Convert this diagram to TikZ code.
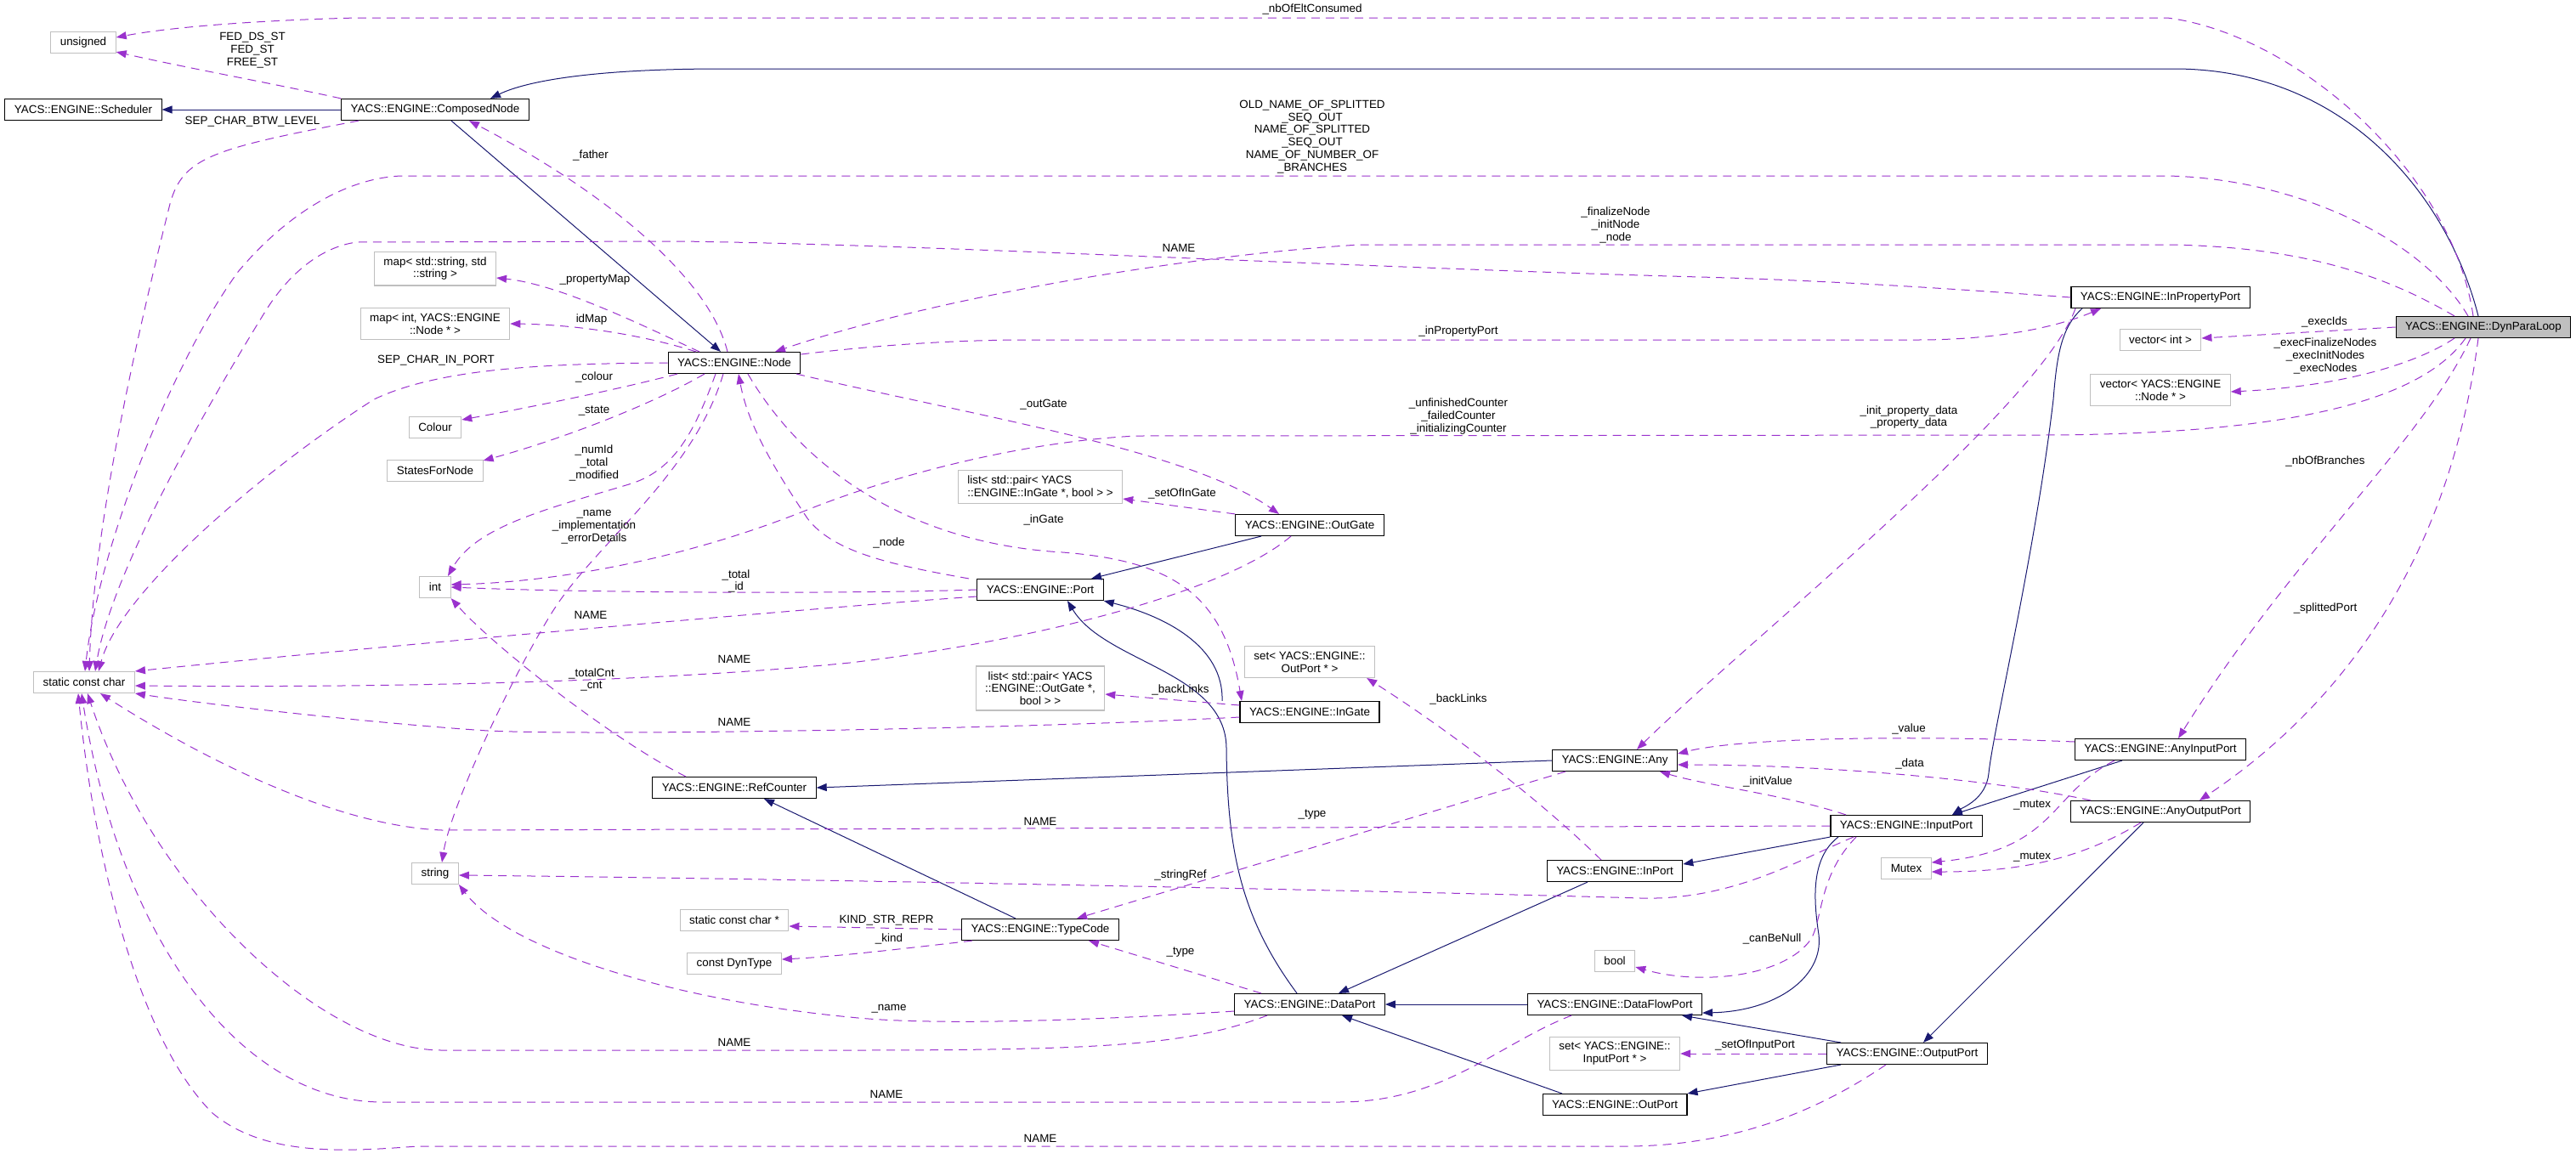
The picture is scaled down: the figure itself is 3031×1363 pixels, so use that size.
\documentclass[tikz,border=0pt]{standalone}
\usepackage{fontspec}
\setmainfont{Liberation Sans}
\usepackage{xcolor}
\usepackage{tikz}
\usetikzlibrary{arrows.meta}
\definecolor{inhcol}{HTML}{191970}
\definecolor{depcol}{HTML}{9A32CD}
\definecolor{extcol}{HTML}{BFBFBF}

\begin{document}
\begin{tikzpicture}[x=1pt,y=-1pt,
  every node/.style={font=\fontsize{13.4}{14.8}\selectfont},
  cls/.style={draw=black,line width=1.1pt,inner xsep=11pt,inner ysep=6.3pt,minimum height=25pt,align=center,fill=white},
  ext/.style={cls,draw=extcol},
  cur/.style={cls,fill=extcol},
  lbl/.style={inner sep=0pt,align=center},
  inh/.style={draw=inhcol,line width=1pt,-{Triangle[length=12pt,width=9pt]}},
  dep/.style={draw=depcol,line width=1pt,dash pattern=on 10pt off 7pt,-{Triangle[length=12pt,width=9pt]}}]
\useasboundingbox (0,0) rectangle (3031,1363);

%% classes (x , y) as in the graph %%%%%%%%%%%%%%%%%%%%
\node[cur] (dpl) at (2922,385) {YACS::ENGINE::DynParaLoop};
\node[ext] (unsgn) at (98,50) {unsigned};
\node[cls] (sched) at (98,129) {YACS::ENGINE::Scheduler};
\node[cls] (compnode) at (512,129) {YACS::ENGINE::ComposedNode};
\node[ext] (mapstr) at (512,316) {map< std::string, std\\::string >};
\node[ext] (mapint) at (512,381) {map< int, YACS::ENGINE\\::Node * >};
\node[cls] (ynode) at (864,427) {YACS::ENGINE::Node};
\node[ext] (colour) at (512,503) {Colour};
\node[ext] (states) at (512,554) {StatesForNode};
\node[ext] (tint) at (512,691) {int};
\node[ext] (scc) at (99,803) {static const char};
\node[ext] (tstring) at (512,1028) {string};
\node[cls] (refcnt) at (864,927) {YACS::ENGINE::RefCounter};
\node[ext] (sccp) at (864,1083) {static const char *};
\node[ext] (dyntype) at (864,1134) {const DynType};
\node[ext,align=left] (listin) at (1224,573) {list< std::pair< YACS\\::ENGINE::InGate *, bool > >};
\node[cls] (outgate) at (1541,618) {YACS::ENGINE::OutGate};
\node[cls] (port) at (1224,694) {YACS::ENGINE::Port};
\node[ext] (setoutp) at (1541,779) {set< YACS::ENGINE::\\OutPort * >};
\node[ext] (listout) at (1224,810) {list< std::pair< YACS\\::ENGINE::OutGate *,\\bool > >};
\node[cls] (ingate) at (1541,838) {YACS::ENGINE::InGate};
\node[cls] (any) at (1900,895) {YACS::ENGINE::Any};
\node[cls] (inport) at (1900,1025) {YACS::ENGINE::InPort};
\node[cls] (typecode) at (1224,1094) {YACS::ENGINE::TypeCode};
\node[ext] (tbool) at (1900,1131) {bool};
\node[cls] (dataport) at (1541,1182) {YACS::ENGINE::DataPort};
\node[cls] (dataflow) at (1900,1182) {YACS::ENGINE::DataFlowPort};
\node[ext] (setinp) at (1900,1240) {set< YACS::ENGINE::\\InputPort * >};
\node[cls] (outport) at (1900,1300) {YACS::ENGINE::OutPort};
\node[cls] (inprop) at (2542,350) {YACS::ENGINE::InPropertyPort};
\node[ext] (vecint) at (2542,400) {vector< int >};
\node[ext] (vecnode) at (2542,459) {vector< YACS::ENGINE\\::Node * >};
\node[cls] (anyin) at (2542,882) {YACS::ENGINE::AnyInputPort};
\node[cls] (anyout) at (2542,955) {YACS::ENGINE::AnyOutputPort};
\node[cls] (inputport) at (2243,972) {YACS::ENGINE::InputPort};
\node[ext] (mutex) at (2243,1022) {Mutex};
\node[cls] (outputport) at (2244,1240) {YACS::ENGINE::OutputPort};

%% inheritance %%%%%%%%%%%%%%%%%%%%%%%%%%%%%%%%%%%%%%%%
\draw[inh] (compnode.west) -- (sched.east);
\draw[inh] ([xshift=19pt]compnode.south) -- ([xshift=-16pt]ynode.north);
\draw[inh] ([xshift=-6pt]dpl.north) .. controls (2880,230) and (2760,82) .. (2560,81) -- (850,81) .. controls (700,81) and (620,95) .. ([xshift=65pt]compnode.north);
\draw[inh] ([xshift=-57pt]outgate.south) -- ([xshift=60pt]port.north);
\draw[inh] ([xshift=-103pt]ingate.north) .. controls (1440,760) and (1370,725) .. (port.south east);
\draw[inh] ([xshift=-15pt]dataport.north) .. controls (1460,1080) and (1444,1000) .. (1443,880) .. controls (1442,790) and (1300,780) .. ([xshift=32pt]port.south);
\draw[inh] (any.west) -- (refcnt.east);
\draw[inh] ([xshift=-29pt]typecode.north) -- ([xshift=35pt]refcnt.south);
\draw[inh] ([xshift=-32pt]inport.south) -- ([xshift=34pt]dataport.north);
\draw[inh] (dataflow.west) -- (dataport.east);
\draw[inh] ([xshift=-62pt]outport.north) -- ([xshift=38pt]dataport.south);
\draw[inh] (inputport.south west) -- ([yshift=8pt]inport.east);
\draw[inh] ([xshift=-80pt]inputport.south) .. controls (2130,1010) and (2134,1060) .. (2140,1100) .. controls (2146,1150) and (2090,1190) .. ([yshift=3pt]dataflow.south east);
\draw[inh] ([xshift=-78pt]outputport.north) -- ([xshift=-24pt]dataflow.south east);
\draw[inh] ([xshift=-78pt]outputport.south) -- (outport.north east);
\draw[inh] ([xshift=-92pt]inprop.south) .. controls (2425,385) and (2420,420) .. (2416,470) .. controls (2395,650) and (2345,860) .. (2340,910) .. controls (2337,940) and (2310,950) .. ([xshift=54pt]inputport.north);
\draw[inh] ([xshift=-45pt]anyin.south) -- ([xshift=54pt]inputport.north);
\draw[inh] ([xshift=-20pt]anyout.south) -- ([xshift=19pt]outputport.north);

%% members, DynParaLoop %%%%%%%%%%%%%%%%%%%%%%%%%%%%%%%
\draw[dep] ([xshift=-12pt]dpl.north) .. controls (2885,200) and (2700,40) .. (2550,21) -- (420,21) .. controls (300,24) and (200,32) .. ([yshift=6pt]unsgn.east);
\node[lbl] (Lnbelt) at (1544,11) {\_nbOfEltConsumed};
\draw[dep] ([xshift=-18pt]dpl.north) .. controls (2850,280) and (2700,210) .. (2550,207) -- (472,207) .. controls (400,210) and (330,260) .. (280,320) .. controls (200,430) and (115,650) .. ([xshift=1pt]scc.north);
\node[lbl] (Loldname) at (1544,161) {OLD\_NAME\_OF\_SPLITTED\\\_SEQ\_OUT\\NAME\_OF\_SPLITTED\\\_SEQ\_OUT\\NAME\_OF\_NUMBER\_OF\\\_BRANCHES};
\draw[dep] ([xshift=-34pt]dpl.north) .. controls (2800,320) and (2700,290) .. (2550,288) -- (1600,288) .. controls (1400,300) and (1100,350) .. ([xshift=48pt]ynode.north);
\node[lbl] (Lfinal) at (1901,265) {\_finalizeNode\\\_initNode\\\_node};
\draw[dep] (dpl.west) -- ([yshift=2pt]vecint.east);
\node[lbl] (Lexecids) at (2735,379) {\_execIds};
\draw[dep] ([xshift=-34pt]dpl.south) .. controls (2840,430) and (2750,455) .. ([yshift=-2pt]vecnode.east);
\node[lbl] (Lexecnodes) at (2736,419) {\_execFinalizeNodes\\\_execInitNodes\\\_execNodes};
\draw[dep] ([xshift=-21pt]dpl.south) .. controls (2850,470) and (2700,512) .. (2394,512) -- (1337,513) .. controls (1200,520) and (1050,560) .. (950,600) .. controls (800,660) and (650,685) .. ([yshift=3pt]tint.east);
\node[lbl] (Lcounters) at (1716,490) {\_unfinishedCounter\\\_failedCounter\\\_initializingCounter};
\draw[dep] ([xshift=-15pt]dpl.south) .. controls (2850,520) and (2700,650) .. ([xshift=21pt]anyin.north);
\node[lbl] (Lnbbranch) at (2736,543) {\_nbOfBranches};
\draw[dep] ([xshift=-6pt]dpl.south) .. controls (2890,600) and (2800,800) .. ([xshift=46pt]anyout.north);
\node[lbl] (Lsplit) at (2736,716) {\_splittedPort};

%% members, ComposedNode and Node %%%%%%%%%%%%%%%%%%%%%
\draw[dep] (compnode.north west) .. controls (330,100) and (220,80) .. ([yshift=2pt]unsgn.south east);
\node[lbl] (Lfed) at (297,59) {FED\_DS\_ST\\FED\_ST\\FREE\_ST};
\draw[dep] ([xshift=-90pt]compnode.south) .. controls (250,175) and (215,185) .. (200,240) .. controls (160,400) and (110,620) .. ([xshift=6pt]scc.north);
\node[lbl] (Lsepbtw) at (297,143) {SEP\_CHAR\_BTW\_LEVEL};
\draw[dep] ([xshift=-41pt]ynode.north) .. controls (760,385) and (660,335) .. ([yshift=-11pt]mapstr.east);
\node[lbl] (Lpropmap) at (700,329) {\_propertyMap};
\draw[dep] ([xshift=-45pt]ynode.north) .. controls (760,395) and (680,382) .. (mapint.east);
\node[lbl] (Lidmap) at (696,376) {idMap};
\draw[dep] ([xshift=-8pt]ynode.north) .. controls (835,330) and (720,230) .. ([xshift=40pt]compnode.south);
\node[lbl] (Lfather) at (695,183) {\_father};
\draw[dep] (ynode.west) .. controls (650,428) and (520,432) .. (440,470) .. controls (300,560) and (140,700) .. ([xshift=17pt]scc.north);
\node[lbl] (Lsepin) at (513,424) {SEP\_CHAR\_IN\_PORT};
\draw[dep] ([xshift=-67pt]ynode.south) .. controls (720,460) and (620,480) .. ([yshift=9pt]colour.east);
\node[lbl] (Lcolour) at (699,444) {\_colour};
\draw[dep] ([xshift=-35pt]ynode.south) .. controls (760,480) and (650,520) .. ([yshift=12pt]states.east);
\node[lbl] (Lstate) at (699,483) {\_state};
\draw[dep] ([xshift=-22pt]ynode.south) .. controls (815,515) and (790,555) .. (740,570) .. controls (640,600) and (560,620) .. ([xshift=15pt]tint.north);
\node[lbl] (Lnumid) at (699,545) {\_numId\\\_total\\\_modified};
\draw[dep] ([xshift=-13pt]ynode.south) .. controls (815,560) and (700,640) .. (650,720) .. controls (600,800) and (530,950) .. ([xshift=8pt]tstring.north);
\node[lbl] (Lname2) at (699,620) {\_name\\\_implementation\\\_errorDetails};
\draw[dep] ([xshift=73pt]ynode.south) .. controls (1150,490) and (1400,530) .. ([xshift=-36pt]outgate.north);
\node[lbl] (Loutgate) at (1228,476) {\_outGate};
\draw[dep] ([xshift=16pt]ynode.south) .. controls (950,560) and (1080,640) .. (1250,650) .. controls (1380,660) and (1440,700) .. ([xshift=-80pt]ingate.north);
\node[lbl] (Lingate) at (1228,612) {\_inGate};
\draw[dep] ([yshift=10pt]ynode.east) .. controls (1000,410) and (1100,400) .. (1210,400) -- (2256,400) .. controls (2350,400) and (2420,385) .. ([xshift=-70pt]inprop.south);
\node[lbl] (Linprop) at (1716,390) {\_inPropertyPort};
\draw[dep] (inprop.west) .. controls (2300,340) and (2150,330) .. (2000,326) .. controls (1600,315) and (1100,288) .. (800,284) -- (420,285) .. controls (380,290) and (340,320) .. (310,370) .. controls (230,500) and (130,680) .. ([xshift=13pt]scc.north);
\node[lbl] (Lname1) at (1387,292) {NAME};
\draw[dep] ([xshift=-100pt]inprop.south) .. controls (2400,480) and (2050,760) .. ([xshift=26pt]any.north);
\node[lbl] (Lpropdata) at (2246,491) {\_init\_property\_data\\\_property\_data};

%% members, ports and gates %%%%%%%%%%%%%%%%%%%%%%%%%%%
\draw[dep] ([xshift=-84pt]port.north) .. controls (1050,665) and (980,650) .. (950,610) .. controls (910,550) and (880,500) .. ([xshift=5pt]ynode.south);
\node[lbl] (Lnode) at (1046,639) {\_node};
\draw[dep] (outgate.north west) -- ([yshift=-14pt]listin.east);
\node[lbl] (Lsetin) at (1391,581) {\_setOfInGate};
\draw[dep] ([yshift=8pt]ingate.west) -- ([yshift=-7pt]listout.east);
\node[lbl] (Lbacklinks1) at (1389,812) {\_backLinks};
\draw[dep] (port.west) .. controls (1000,699) and (700,698) .. (tint.east);
\node[lbl] (Ltotal) at (866,684) {\_total\\\_id};
\draw[dep] ([yshift=-8pt]port.west) .. controls (1000,712) and (450,760) .. (scc.north east);
\node[lbl] (Lname3) at (695,724) {NAME};
\draw[dep] ([xshift=-22pt]outgate.south) .. controls (1450,690) and (1250,750) .. (1000,780) .. controls (800,800) and (500,810) .. ([yshift=-4pt]scc.east);
\node[lbl] (Lname4) at (864,776) {NAME};
\draw[dep] ([xshift=-57pt]refcnt.north) .. controls (720,870) and (580,760) .. (tint.south east);
\node[lbl] (Ltotalcnt) at (696,800) {\_totalCnt\\\_cnt};
\draw[dep] ([yshift=-6pt]ingate.west) .. controls (1200,858) and (700,866) .. (574,860) .. controls (450,852) and (250,830) .. (scc.south east);
\node[lbl] (Lname5) at (864,850) {NAME};
\draw[dep] (inputport.west) -- (520,977) .. controls (400,972) and (250,900) .. ([xshift=19pt]scc.south);
\node[lbl] (Lname6) at (1224,967) {NAME};
\draw[dep] ([xshift=-62pt]inputport.south) .. controls (2120,1010) and (2040,1060) .. (1930,1057) .. controls (1700,1050) and (1000,1035) .. ([yshift=-2pt]tstring.east);
\node[lbl] (Lstringref) at (1389,1030) {\_stringRef};
\draw[dep] ([xshift=-58pt]any.south) -- ([xshift=43pt]typecode.north);
\node[lbl] (Ltype1) at (1544,959) {\_type};
\draw[dep] ([xshift=-57pt]dataport.north) -- ([xshift=57pt]typecode.south);
\node[lbl] (Ltype2) at (1389,1121) {\_type};
\draw[dep] (typecode.west) -- ([yshift=-7pt]sccp.east);
\node[lbl] (Lkind1) at (1043,1083) {KIND\_STR\_REPR};
\draw[dep] ([xshift=-80pt]typecode.south) .. controls (1050,1118) and (980,1126) .. ([yshift=5pt]dyntype.east);
\node[lbl] (Lkind2) at (1046,1105) {\_kind};
\draw[dep] ([yshift=-8pt]dataport.west) .. controls (1300,1200) and (1100,1208) .. (1000,1197) .. controls (800,1178) and (600,1120) .. (tstring.south east);
\node[lbl] (Lname7) at (1046,1187) {\_name};
\draw[dep] ([xshift=-50pt]dataport.south) .. controls (1400,1230) and (1300,1236) .. (1000,1236) -- (520,1236) .. controls (380,1236) and (180,1050) .. ([xshift=4pt]scc.south);
\node[lbl] (Lname8) at (864,1227) {NAME};
\draw[dep] ([xshift=-51pt]dataflow.south) .. controls (1760,1230) and (1700,1297) .. (1575,1297) -- (450,1297) .. controls (280,1297) and (140,1100) .. ([xshift=-3pt]scc.south);
\node[lbl] (Lname9) at (1043,1288) {NAME};
\draw[dep] ([xshift=-25pt]outputport.south) .. controls (2150,1300) and (2050,1349) .. (1912,1349) -- (491,1349) .. controls (400,1356) and (310,1360) .. (250,1310) .. controls (160,1220) and (110,1000) .. ([xshift=-7pt]scc.south);
\node[lbl] (Lname10) at (1224,1340) {NAME};
\draw[dep] ([xshift=-16pt]inport.north) .. controls (1800,930) and (1690,850) .. ([xshift=-10pt]setoutp.south east);
\node[lbl] (Lbacklinks2) at (1716,823) {\_backLinks};
\draw[dep] ([yshift=9pt]anyin.west) .. controls (2250,865) and (2050,868) .. ([yshift=8pt]any.east);
\node[lbl] (Lvalue) at (2246,858) {\_value};
\draw[dep] ([xshift=-82pt]anyout.north) .. controls (2350,918) and (2150,900) .. ([yshift=-5pt]any.east);
\node[lbl] (Ldata) at (2247,899) {\_data};
\draw[dep] ([xshift=-71pt]inputport.north) .. controls (2100,935) and (2010,925) .. ([xshift=-21pt]any.south east);
\node[lbl] (Linitval) at (2080,920) {\_initValue};
\draw[dep] ([xshift=-54pt]anyin.south) .. controls (2410,935) and (2420,1000) .. ([yshift=7pt]mutex.east);
\node[lbl] (Lmutex1) at (2391,947) {\_mutex};
\draw[dep] ([xshift=-23pt]anyout.south) .. controls (2450,1010) and (2380,1026) .. ([yshift=-4pt]mutex.east);
\node[lbl] (Lmutex2) at (2391,1008) {\_mutex};
\draw[dep] ([xshift=-59pt]inputport.south) .. controls (2140,1030) and (2145,1080) .. (2131,1105) .. controls (2100,1150) and (2000,1160) .. ([yshift=-7pt]tbool.east);
\node[lbl] (Lcanbenull) at (2085,1105) {\_canBeNull};
\draw[dep] (outputport.west) -- (setinp.east);
\node[lbl] (Lsetofinp) at (2065,1230) {\_setOfInputPort};
\end{tikzpicture}
\end{document}
